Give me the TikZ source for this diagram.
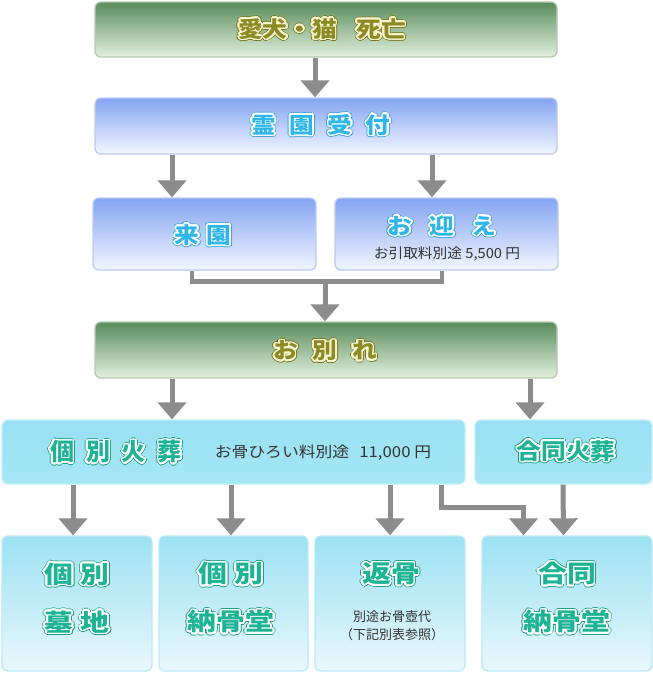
\documentclass[tikz,border=0pt]{standalone}
\usepackage{fontspec}
\newfontfamily\jp{Noto Sans CJK JP}
\usepackage{graphicx}
\usepackage{contour}
\usetikzlibrary{arrows.meta}
\definecolor{gtop}{HTML}{5A8C5C}
\definecolor{gbot}{HTML}{E2F1DE}
\definecolor{gbord}{HTML}{B4CBB0}
\definecolor{btop}{HTML}{84A4F2}
\definecolor{bbot}{HTML}{F2F6FF}
\definecolor{bbord}{HTML}{BACAF4}
\definecolor{ctop}{HTML}{98E0F2}
\definecolor{cbot}{HTML}{A6E7F6}
\definecolor{cbord}{HTML}{C2EFFA}
\definecolor{dtop}{HTML}{9CE1F2}
\definecolor{dbot}{HTML}{E8F8FD}
\definecolor{dbord}{HTML}{B8EAF7}
\definecolor{agray}{HTML}{8C8C8C}
\definecolor{olfill}{HTML}{8C8A22}
\definecolor{oledge}{HTML}{7A781A}
\definecolor{olring}{HTML}{F6F4D2}
\definecolor{blfill}{HTML}{2FB6E8}
\definecolor{bledge}{HTML}{3EA6DC}
\definecolor{tlfill}{HTML}{1FB395}
\definecolor{tledge}{HTML}{199E84}
\definecolor{smalltxt}{HTML}{333333}
% outlined text: scale, edge, fill, ring, text
\newcommand\otx[5]{\scalebox{#1}[1]{\color{#3}\rlap{\contourlength{2.3pt}\contour{#2}{#5}}\contourlength{1.5pt}\contour{#4}{#5}}}
\newcommand\gtx[2][1.12]{\otx{#1}{oledge}{olfill}{olring}{#2}}
\newcommand\btx[2][1.12]{\otx{#1}{bledge}{blfill}{white}{#2}}
\newcommand\ttx[2][1.12]{\otx{#1}{tledge}{tlfill}{white}{#2}}
\newcommand\gp[1]{\hspace{#1em}}
\begin{document}
\begin{tikzpicture}[x=1pt,y=-1pt,
  box/.style={rounded corners=6pt, inner sep=0pt, line width=1.3pt},
  greenbox/.style={box, draw=gbord, top color=gtop, bottom color=gbot},
  bluebox/.style={box, draw=bbord, top color=btop, bottom color=bbot},
  cyanbox/.style={box, draw=cbord, top color=ctop, bottom color=cbot},
  endbox/.style={box, draw=dbord, top color=dtop, bottom color=dbot},
  bigtxt/.style={inner sep=0pt, font=\jp\bfseries\fontsize{22}{26}\selectfont},
  endtxt/.style={inner sep=0pt, align=center, font=\jp\bfseries\fontsize{24}{48}\selectfont},
  smtxt/.style={inner sep=0pt, text=smalltxt, font=\jp\fontsize{14}{18}\selectfont},
  arr/.style={draw=agray, line width=5pt, -{Triangle[width=28pt,length=17pt]}},
  conn/.style={draw=agray, line width=4.5pt}
]
\fill[white] (0,0) rectangle (653,673);
\useasboundingbox (0,0) rectangle (653,673);

% boxes
\node[greenbox, minimum width=462pt, minimum height=55pt] (dead) at (326,29.5) {};
\node[bluebox, minimum width=462pt, minimum height=56pt] (reien) at (326,126) {};
\node[bluebox, minimum width=223pt, minimum height=72pt] (kuen) at (204.5,234) {};
\node[bluebox, minimum width=223pt, minimum height=72pt] (mukae) at (446.5,234) {};
\node[greenbox, minimum width=462pt, minimum height=56pt] (owakare) at (326,350) {};
\node[cyanbox, minimum width=463pt, minimum height=64pt] (kobetsu) at (233.5,452) {};
\node[cyanbox, minimum width=177pt, minimum height=64pt] (goudou) at (563.5,452) {};
\node[endbox, minimum width=150pt, minimum height=135pt] (b1) at (77,603.5) {};
\node[endbox, minimum width=149pt, minimum height=135pt] (b2) at (233.5,603.5) {};
\node[endbox, minimum width=150pt, minimum height=135pt] (b3) at (390,603.5) {};
\node[endbox, minimum width=170pt, minimum height=135pt] (b4) at (567,603.5) {};

% texts
\node[bigtxt] (tdead) at (322,30) {\gtx[1.12]{愛犬・猫\gp{0.8}死亡}};
\node[bigtxt] (treien) at (321,126) {\btx[1.12]{霊\gp{0.55}園\gp{0.55}受\gp{0.55}付}};
\node[bigtxt] (tkuen) at (203,236) {\btx[1.12]{来\gp{0.3}園}};
\node[bigtxt] (tmukae) at (442,227) {\btx[1.12]{お\gp{0.7}迎\gp{0.7}え}};
\node[smtxt] (smukae) at (447,254) {\scalebox{1.05}[1]{お引取料別途 5,500 円}};
\node[bigtxt] (towakare) at (325,352) {\gtx[1.12]{お\gp{0.6}別\gp{0.6}れ}};
\node[bigtxt, font=\jp\bfseries\fontsize{24}{28}\selectfont] (tkobetsu) at (116,453) {\ttx[1.0]{個\gp{0.5}別\gp{0.5}火\gp{0.5}葬}};
\node[smtxt, font=\jp\fontsize{15}{18}\selectfont] (skobetsu) at (323,453) {\scalebox{1.12}[1]{お骨ひろい料別途\hspace{0.6em}11,000 円}};
\node[bigtxt] (tgoudou) at (566,452) {\ttx[1.12]{合同火葬}};
\node[endtxt] (tb1) at (77,599) {\ttx[1.2]{個\gp{0.25}別}\\\ttx[1.2]{墓\gp{0.25}地}};
\node[endtxt] (tb2) at (231,599) {\ttx[1.2]{個\gp{0.25}別}\\\ttx[1.2]{納骨堂}};
\node[endtxt] (tb3) at (391,575) {\ttx[1.2]{返骨}};
\node[smtxt, align=center, font=\jp\fontsize{13}{18}\selectfont] (sb3) at (392,626) {別途お骨壺代\\（下記別表参照）};
\node[endtxt] (tb4) at (567,599) {\ttx[1.2]{合同}\\\ttx[1.2]{納骨堂}};

% connectors
\draw[arr] ([xshift=-11pt]dead.south) -- ([xshift=-11pt]reien.north);
\draw[arr] ([xshift=-154pt]reien.south) -- ([xshift=-32.5pt]kuen.north);
\draw[arr] ([xshift=106pt]reien.south) -- ([xshift=-14.5pt]mukae.north);
\draw[conn] ([xshift=-12.5pt]kuen.south) -- ++(0,11) -| ([xshift=-4.5pt]mukae.south);
\coordinate (mj) at (325,279);
\draw[arr] (mj) -- ([xshift=-1pt]owakare.north);
\draw[arr] ([xshift=-154pt]owakare.south) -- ([xshift=-61.5pt]kobetsu.north);
\draw[arr] ([xshift=204pt]owakare.south) -- ([xshift=-33.5pt]goudou.north);
\draw[arr] ([xshift=-160.5pt]kobetsu.south) -- ([xshift=-4pt]b1.north);
\draw[arr] ([xshift=-2.5pt]kobetsu.south) -- ([xshift=-2.5pt]b2.north);
\draw[arr] ([xshift=156.5pt]kobetsu.south) -- ([xshift=0pt]b3.north);
\draw[arr] ([xshift=207.5pt]kobetsu.south) -- ++(0,23) -| ([xshift=-43.5pt]b4.north);
\draw[arr] ([xshift=-0.5pt]goudou.south) -- ([xshift=-3.5pt]b4.north);
\end{tikzpicture}
\end{document}
